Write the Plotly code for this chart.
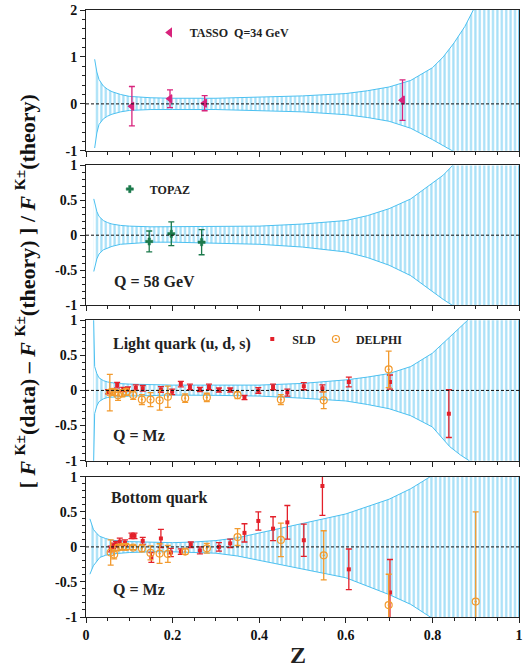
import plotly.graph_objects as go

# ---------------- theory uncertainty bands (relative), per panel ----------------
band1_z  = [0.02, 0.025, 0.03, 0.04, 0.05, 0.06, 0.08, 0.10, 0.15, 0.20, 0.30, 0.40, 0.50,
            0.60, 0.65, 0.70, 0.75, 0.80, 0.825, 0.85, 0.875, 0.90, 0.95, 1.00]
band1_up = [0.95, 0.68, 0.52, 0.38, 0.31, 0.26, 0.20, 0.16, 0.13, 0.12, 0.12, 0.14, 0.17,
            0.22, 0.28, 0.36, 0.50, 0.77, 1.00, 1.30, 1.65, 2.10, 2.60, 3.00]
band1_lo = [-0.94, -0.62, -0.44, -0.32, -0.26, -0.22, -0.17, -0.14, -0.12, -0.12, -0.12, -0.14, -0.17,
            -0.23, -0.29, -0.37, -0.52, -0.76, -0.90, -1.02, -1.15, -1.30, -1.50, -1.70]

band2_z  = [0.018, 0.025, 0.03, 0.04, 0.05, 0.06, 0.08, 0.10, 0.15, 0.20, 0.30, 0.40, 0.50,
            0.60, 0.65, 0.70, 0.75, 0.80, 0.825, 0.85, 0.90, 1.00]
band2_up = [0.52, 0.34, 0.27, 0.21, 0.18, 0.16, 0.14, 0.13, 0.12, 0.12, 0.12, 0.13, 0.16,
            0.21, 0.28, 0.38, 0.52, 0.74, 0.86, 1.02, 1.30, 1.80]
band2_lo = [-0.52, -0.34, -0.27, -0.21, -0.18, -0.16, -0.13, -0.12, -0.10, -0.10, -0.11, -0.13, -0.17,
            -0.24, -0.32, -0.43, -0.58, -0.81, -0.92, -1.02, -1.30, -1.80]

band3_z  = [0.017, 0.02, 0.025, 0.03, 0.04, 0.05, 0.07, 0.10, 0.20, 0.30, 0.40, 0.50, 0.60,
            0.65, 0.70, 0.75, 0.80, 0.84, 0.865, 0.885, 0.90, 1.00]
band3_up = [1.20, 0.34, 0.24, 0.18, 0.14, 0.12, 0.10, 0.09, 0.076, 0.075, 0.076, 0.10, 0.15,
            0.19, 0.24, 0.34, 0.53, 0.76, 0.90, 1.02, 1.20, 1.60]
band3_lo = [-1.20, -0.33, -0.22, -0.16, -0.12, -0.10, -0.09, -0.08, -0.066, -0.07, -0.08, -0.11, -0.15,
            -0.20, -0.26, -0.36, -0.52, -0.80, -0.92, -1.00, -1.20, -1.60]

band4_z  = [0.009, 0.017, 0.025, 0.032, 0.045, 0.06, 0.10, 0.15, 0.20, 0.25, 0.30, 0.35, 0.40,
            0.50, 0.60, 0.70, 0.75, 0.80, 0.85, 1.00]
band4_up = [0.40, 0.25, 0.19, 0.15, 0.12, 0.095, 0.075, 0.065, 0.06, 0.07, 0.09, 0.13, 0.20,
            0.33, 0.47, 0.68, 0.83, 1.02, 1.30, 2.00]
band4_lo = [-0.39, -0.27, -0.20, -0.15, -0.12, -0.10, -0.08, -0.07, -0.07, -0.075, -0.09, -0.13, -0.20,
            -0.32, -0.44, -0.68, -0.82, -1.02, -1.30, -2.00]

# ---------------- data points ----------------
tasso_z   = [0.106, 0.194, 0.274, 0.731]
tasso_r   = [-0.05, 0.11, 0.014, 0.08]
tasso_err = [0.42, 0.19, 0.16, 0.43]

topaz_z   = [0.146, 0.197, 0.267]
topaz_r   = [-0.09, 0.02, -0.10]
topaz_err = [0.15, 0.17, 0.18]

sld_light_z   = [0.051, 0.072, 0.086, 0.097, 0.115, 0.131, 0.173, 0.199, 0.219, 0.240, 0.263,
                 0.284, 0.307, 0.333, 0.366, 0.398, 0.432, 0.465, 0.503, 0.546, 0.607, 0.702, 0.838]
sld_light_r   = [-0.02, 0.076, 0.014, 0.02, 0.04, 0.03, 0.014, -0.02, 0.09, 0.05, 0.014,
                 0.05, 0.005, 0.005, -0.10, 0.0, 0.05, -0.03, 0.06, 0.03, 0.12, 0.12, -0.33]
sld_light_err = [0.03, 0.04, 0.03, 0.03, 0.04, 0.04, 0.04, 0.04, 0.04, 0.04, 0.03,
                 0.04, 0.03, 0.03, 0.03, 0.04, 0.04, 0.05, 0.05, 0.05, 0.07, 0.10, 0.34]

delphi_light_z   = [0.055, 0.061, 0.067, 0.074, 0.084, 0.093, 0.109, 0.129, 0.149, 0.170,
                    0.189, 0.229, 0.279, 0.350, 0.450, 0.549, 0.699]
delphi_light_r   = [-0.03, -0.02, -0.03, -0.07, -0.04, -0.02, -0.066, -0.13, -0.13, -0.14,
                    -0.09, -0.11, -0.10, -0.066, -0.13, -0.14, 0.30]
delphi_light_err = [0.26, 0.04, 0.04, 0.07, 0.05, 0.05, 0.06, 0.07, 0.10, 0.14,
                    0.15, 0.06, 0.06, 0.05, 0.07, 0.12, 0.26]

sld_bottom_z   = [0.057, 0.063, 0.069, 0.078, 0.090, 0.105, 0.112, 0.131, 0.151, 0.173, 0.196,
                  0.219, 0.242, 0.263, 0.307, 0.333, 0.366, 0.398, 0.432, 0.465, 0.503, 0.546,
                  0.607, 0.702]
sld_bottom_r   = [-0.03, 0.014, 0.04, 0.076, 0.06, 0.157, 0.157, 0.086, -0.15, 0.12, -0.08,
                  -0.067, 0.03, -0.05, 0.0, 0.05, 0.20, 0.37, 0.26, 0.35, 0.095, 0.87,
                  -0.32, -0.65]
sld_bottom_err = [0.04, 0.04, 0.04, 0.05, 0.04, 0.04, 0.04, 0.05, 0.07, 0.13, 0.06,
                  0.04, 0.04, 0.05, 0.06, 0.06, 0.13, 0.13, 0.17, 0.24, 0.23, 0.42,
                  0.29, 0.47]

delphi_bottom_z   = [0.057, 0.065, 0.074, 0.084, 0.093, 0.109, 0.129, 0.149, 0.170, 0.189,
                     0.229, 0.279, 0.350, 0.450, 0.549, 0.699, 0.900]
delphi_bottom_r   = [-0.08, -0.11, -0.01, 0.0, 0.0, -0.01, -0.02, -0.086, -0.095, -0.10,
                     -0.067, -0.02, 0.14, 0.10, -0.12, -0.83, -0.78]
delphi_bottom_err = [0.18, 0.06, 0.04, 0.04, 0.04, 0.03, 0.05, 0.10, 0.14, 0.12,
                     0.04, 0.07, 0.12, 0.24, 0.35, 0.44, 1.28]

y_ranges = [[-1, 2], [-1, 1], [-1, 1], [-1, 1]]
y_ticks = [[-1, 0, 1, 2], [-1, -0.5, 0, 0.5, 1], [-1, -0.5, 0, 0.5, 1], [-1, -0.5, 0, 0.5, 1]]
y_ticktext = [["-1", "0", "1", "2"], ["-1", "-0.5", "0", "0.5", "1"],
              ["-1", "-0.5", "0", "0.5", "1"], ["-1", "-0.5", "0", "0.5", "1"]]
x_ticks = [0, 0.2, 0.4, 0.6, 0.8, 1.0]
x_ticktext = ["0", "0.2", "0.4", "0.6", "0.8", "1"]

BAND = "#4CC0F0"
MAGENTA = "#D8237C"
GREEN = "#1C7A4C"
RED = "#E3202A"
ORANGE = "#F29A2E"
SERIF = "Liberation Serif"

domains = [[0.768, 1.0], [0.514, 0.744], [0.2575, 0.489], [0.0, 0.231]]

fig = go.Figure()


def axes(i):
    s = "" if i == 0 else str(i + 1)
    return "x" + s, "y" + s


def add_band(i, z, up, lo):
    xa, ya = axes(i)
    fig.add_trace(go.Scatter(
        x=list(z) + list(z)[::-1], y=list(up) + list(lo)[::-1],
        mode="lines", fill="toself", line=dict(color=BAND, width=1),
        fillcolor="rgba(0,0,0,0)",
        fillpattern=dict(shape="|", fgcolor=BAND, bgcolor="rgba(255,255,255,0)",
                         size=4.4, solidity=0.5),
        hoverinfo="skip", showlegend=False, xaxis=xa, yaxis=ya))


def add_points(i, z, r, err, color, symbol, size, name, legend, show, lw=1.2):
    xa, ya = axes(i)
    fig.add_trace(go.Scatter(
        x=z, y=r, mode="markers", name=name,
        marker=dict(symbol=symbol, size=size, color=color, line=dict(color=color, width=lw)),
        error_y=dict(type="data", array=err, color=color, thickness=1.3, width=3),
        showlegend=show, legend=legend, xaxis=xa, yaxis=ya, cliponaxis=True))


add_band(0, band1_z, band1_up, band1_lo)
add_band(1, band2_z, band2_up, band2_lo)
add_band(2, band3_z, band3_up, band3_lo)
add_band(3, band4_z, band4_up, band4_lo)

add_points(0, tasso_z, tasso_r, tasso_err, MAGENTA, "triangle-left", 7,
           "TASSO  Q=34 GeV", "legend", True)
add_points(1, topaz_z, topaz_r, topaz_err, GREEN, "cross", 6, "TOPAZ", "legend2", True, lw=0.5)
add_points(2, sld_light_z, sld_light_r, sld_light_err, RED, "square", 4, "SLD", "legend3", True, lw=0)
add_points(2, delphi_light_z, delphi_light_r, delphi_light_err, ORANGE, "circle-open-dot", 7,
           "DELPHI", "legend4", True)
add_points(3, sld_bottom_z, sld_bottom_r, sld_bottom_err, RED, "square", 4, "SLD", "legend3", False, lw=0)
add_points(3, delphi_bottom_z, delphi_bottom_r, delphi_bottom_err, ORANGE, "circle-open-dot", 7,
           "DELPHI", "legend4", False)

tickfont = dict(family=SERIF, size=14, color="#111", weight="bold")
layout = dict(
    width=525, height=671,
    margin=dict(l=86, r=2, t=10, b=54),
    paper_bgcolor="white", plot_bgcolor="white",
    font=dict(family=SERIF, color="#111"),
    showlegend=True,
)
for i in range(4):
    s = "" if i == 0 else str(i + 1)
    layout["xaxis" + s] = dict(
        domain=[0, 1], range=[0, 1], anchor="y" + s,
        tickvals=x_ticks, ticktext=x_ticktext, showticklabels=(i == 3),
        ticklabeloverflow="allow",
        ticks="outside", ticklen=5, tickwidth=1, tickcolor="#222",
        minor=dict(dtick=0.05, ticks="outside", ticklen=3, tickcolor="#222"),
        showline=True, linecolor="#222", linewidth=1, mirror=True,
        showgrid=False, zeroline=False, tickfont=tickfont,
    )
    layout["yaxis" + s] = dict(
        domain=domains[i], range=y_ranges[i], anchor="x" + s,
        tickvals=y_ticks[i], ticktext=y_ticktext[i],
        ticks="outside", ticklen=5, tickwidth=1, tickcolor="#222",
        minor=dict(dtick=0.2 if i == 0 else 0.1, ticks="outside", ticklen=3, tickcolor="#222"),
        showline=True, linecolor="#222", linewidth=1, mirror=True,
        showgrid=False, zeroline=False, tickfont=tickfont,
    )

legend_font = dict(family=SERIF, size=12, color="#222", weight="bold")
common = dict(xanchor="left", yanchor="middle", font=legend_font,
              bgcolor="rgba(0,0,0,0)", itemwidth=30)
layout["legend"] = dict(x=0.147, y=0.963, **common)
layout["legend2"] = dict(x=0.055, y=0.705, **common)
layout["legend3"] = dict(x=0.384, y=0.458, **common)
layout["legend4"] = dict(x=0.531, y=0.458, **common)
fig.update_layout(**layout)

# dashed zero reference line in every panel
for i in range(4):
    xa, ya = axes(i)
    fig.add_shape(type="line", xref=xa + " domain", yref=ya, x0=0, x1=1, y0=0, y1=0,
                  line=dict(color="#111", width=1, dash="3px,2px"))

label_font = dict(family=SERIF, size=16, color="#222", weight="bold")
notes = [
    ("Q = 58 GeV", 0.0595, 0.5535),
    ("Light quark (u, d, s)", 0.057, 0.4498),
    ("Q = Mz", 0.057, 0.2982),
    ("Bottom quark", 0.053, 0.196),
    ("Q = Mz", 0.057, 0.0461),
]
for text, x, y in notes:
    fig.add_annotation(text=text, x=x, y=y, xref="paper", yref="paper",
                       xanchor="left", yanchor="middle", showarrow=False, font=label_font)

fig.add_annotation(
    text="[ <i>F</i> <sup>K±</sup>(data) – <i>F</i> <sup>K±</sup>(theory) ] / <i>F</i> <sup>K±</sup>(theory)",
    x=-0.14, y=0.537, xref="paper", yref="paper", textangle=-90, showarrow=False,
    xanchor="center", yanchor="middle",
    font=dict(family=SERIF, size=22, color="#111", weight="bold"))
fig.add_annotation(text="Z", x=0.49, y=-0.063, xref="paper", yref="paper", showarrow=False,
                   xanchor="center", yanchor="middle",
                   font=dict(family=SERIF, size=24, color="#222", weight="bold"))

fig.write_html("out.html")
